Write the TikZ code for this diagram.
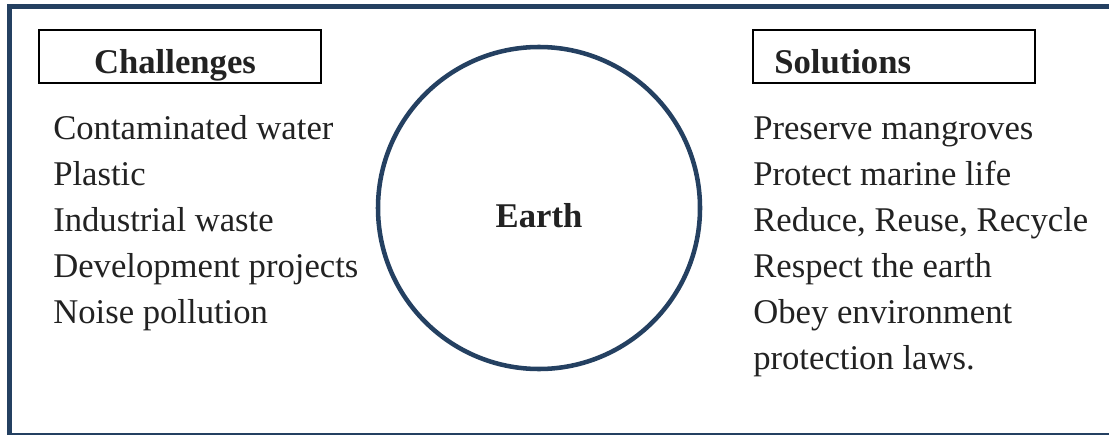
\documentclass[tikz,border=0pt]{standalone}
\usepackage{fontspec}
\setmainfont{Liberation Serif}
\usepackage{tikz}
\usetikzlibrary{positioning}
\definecolor{framec}{RGB}{36,64,97}
\definecolor{inkc}{RGB}{34,34,34}

\begin{document}
\begin{tikzpicture}[x=0.75pt, y=-0.75pt,
    headbox/.style={draw=black, line width=1.1pt, minimum width=211.5pt, minimum height=39.75pt, inner sep=0pt},
    headtext/.style={text=inkc, font=\fontsize{26}{30}\selectfont\bfseries, inner sep=0pt},
    itemtext/.style={text=inkc, font=\fontsize{26}{30}\selectfont, inner sep=0pt, anchor=base west},
    earthnode/.style={circle, draw=framec, line width=3.4pt, minimum size=241.5pt, inner sep=0pt}]

    \useasboundingbox (0,0) rectangle (1109,435);

    % frame
    \draw[framec, line width=3.9pt] (9.5,433) -- (9.5,6.5) -- (1109,6.5);
    \draw[framec, line width=1.5pt] (7,433.5) -- (1109,433.5);

    % heads
    \node[headbox] (chalbox) at (180,56.5) {};
    \node[headtext, anchor=base] (chal) at (175,74) {Challenges};
    \node[headbox] (solbox) at (894,56.5) {};
    \node[headtext, anchor=base west] (sol) at (774,74) {Solutions};

    % earth
    \node[earthnode] (earth) at (539,208) {};
    \node[headtext, anchor=base] (earthtxt) at (539,227) {Earth};

    % challenges
    \node[itemtext] (c1) at (53,139) {Contaminated water};
    \node[itemtext] (c2) at (53,185) {Plastic};
    \node[itemtext] (c3) at (53,231) {Industrial waste};
    \node[itemtext] (c4) at (53,277) {Development projects};
    \node[itemtext] (c5) at (53,323) {Noise pollution};

    % solutions
    \node[itemtext] (s1) at (753,139) {Preserve mangroves};
    \node[itemtext] (s2) at (753,185) {Protect marine life};
    \node[itemtext] (s3) at (753,231) {Reduce, Reuse, Recycle};
    \node[itemtext] (s4) at (753,277) {Respect the earth};
    \node[itemtext] (s5) at (753,323) {Obey environment};
    \node[itemtext] (s6) at (753,369) {protection laws.};

\end{tikzpicture}
\end{document}
